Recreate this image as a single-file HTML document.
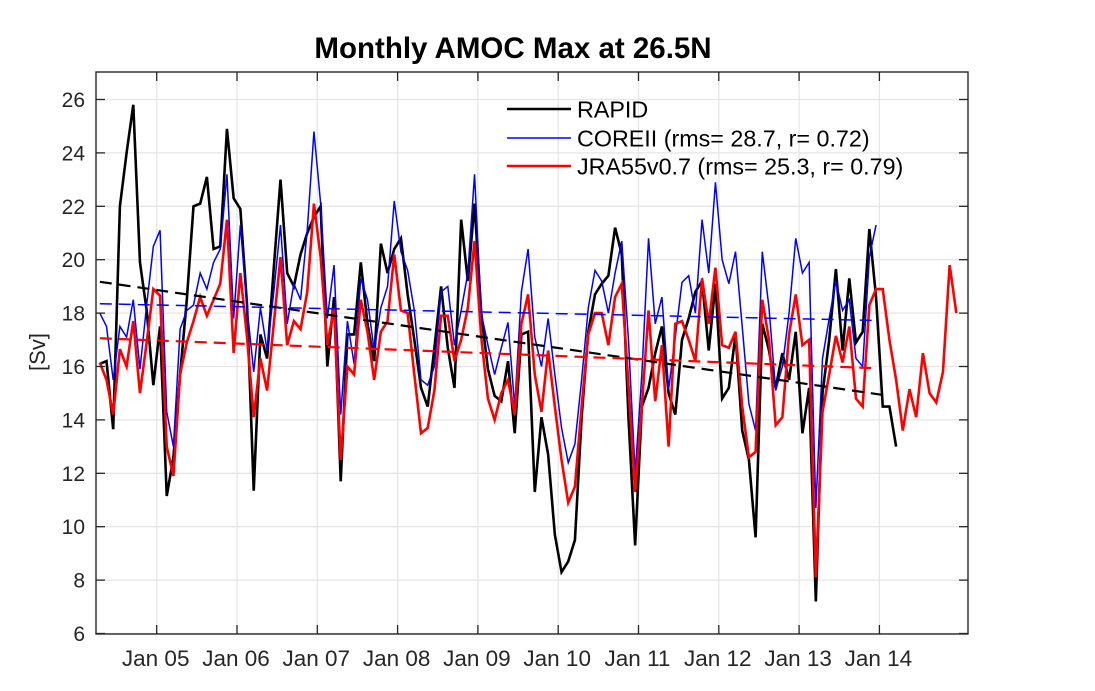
<!DOCTYPE html>
<html><head><meta charset="utf-8"><style>
html,body{margin:0;padding:0;background:#fff;}
svg{display:block;font-family:"Liberation Sans",Arial,sans-serif;}
</style></head><body>
<svg id="chart" width="1095" height="691" viewBox="0 0 1095 691" xmlns="http://www.w3.org/2000/svg">
<rect x="0" y="0" width="1095" height="691" fill="#fff"/>
<g id="grid"></g>
<g id="series"></g>
<g id="axes"></g>
<text x="513" y="58" text-anchor="middle" font-size="29.5" font-weight="bold" fill="#000">Monthly AMOC Max at 26.5N</text>
<text transform="translate(45,352) rotate(-90)" text-anchor="middle" font-size="22" fill="#262626">[Sv]</text>
<g>
<line x1="507" y1="109" x2="571" y2="109" stroke="#000" stroke-width="2.5"/>
<text x="577" y="117.5" font-size="23.3" fill="#000">RAPID</text>
<line x1="507" y1="138" x2="571" y2="138" stroke="#00f" stroke-width="1.4"/>
<text x="577" y="146.5" font-size="23.3" fill="#000">COREII (rms= 28.7, r= 0.72)</text>
<line x1="507" y1="166" x2="571" y2="166" stroke="#f00" stroke-width="2.5"/>
<text x="577" y="174.5" font-size="23.3" fill="#000">JRA55v0.7 (rms= 25.3, r= 0.79)</text>
</g>
</svg>
<script>
const yTicks = [6,8,10,12,14,16,18,20,22,24,26];
const xTickYears = [2005,2006,2007,2008,2009,2010,2011,2012,2013,2014];
const xTickLabels = ["Jan 05","Jan 06","Jan 07","Jan 08","Jan 09","Jan 10","Jan 11","Jan 12","Jan 13","Jan 14"];
const startYear = 2004, startMonth = 4; // first monthly value: April 2004
const rapid = [16.1,16.2,13.65,22.0,24.0,25.8,19.9,18.1,15.3,17.5,11.15,12.6,15.7,18.5,22.0,22.1,23.1,20.4,20.5,24.9,22.3,21.9,
18.3,11.35,17.2,16.3,19.7,23.0,19.5,19.0,20.2,21.0,21.6,22.0,16.0,18.6,11.7,17.2,17.2,19.9,17.6,16.2,
20.6,19.5,20.4,20.8,18.7,17.0,15.2,14.5,16.7,19.0,16.7,15.2,21.5,19.2,22.1,18.0,15.9,14.9,14.7,16.2,
13.5,17.2,17.3,11.3,14.1,12.7,9.7,8.3,8.7,9.5,14.1,17.3,18.7,19.1,19.4,21.2,20.2,14.1,9.3,14.5,15.2,
16.5,17.5,15.0,14.2,17.0,17.8,18.8,19.2,16.6,19.1,14.8,15.2,17.2,13.6,12.5,9.6,17.6,16.6,15.2,16.5,15.5,
17.3,13.5,15.2,7.2,15.0,17.0,19.65,16.6,19.3,16.9,17.3,21.15,18.6,14.5,14.5,13.0];
const coreii = [18.0,17.5,15.5,17.5,17.1,18.5,15.9,18.3,20.5,21.1,14.3,13.0,17.4,18.1,18.3,19.5,18.9,19.9,20.4,23.2,17.8,21.3,
18.2,15.8,18.2,16.6,18.8,21.3,17.6,19.1,18.5,21.1,24.8,22.1,17.8,19.8,14.2,17.7,16.1,19.3,18.5,16.6,
18.2,19.0,22.2,20.3,19.6,18.1,15.5,15.3,16.0,18.8,19.0,16.8,18.1,19.5,23.2,18.0,16.8,15.7,16.7,17.65,14.5,
18.8,20.4,17.1,16.0,17.8,15.7,13.7,12.4,13.1,15.5,18.2,19.6,19.2,18.0,19.5,20.7,17.0,12.0,15.7,20.8,17.6,
18.6,15.15,17.1,19.15,19.4,18.0,21.5,19.5,22.9,20.0,19.1,20.3,17.5,14.6,13.6,20.3,18.2,15.1,16.0,18.0,
20.8,19.5,19.9,10.7,16.3,17.8,19.2,18.1,18.5,16.3,16.0,20.1,21.3];
const jra = [16.15,15.5,14.2,16.65,16.0,17.7,15.0,16.9,18.9,18.65,13.0,11.9,15.7,16.9,17.7,18.6,17.9,18.5,19.1,21.5,16.5,19.5,
17.1,14.1,16.3,15.1,17.6,20.1,16.8,17.7,17.4,18.8,22.1,20.1,16.8,18.2,12.5,16.0,15.7,18.5,17.3,15.5,
17.3,17.7,20.2,18.1,18.0,15.7,13.5,13.7,15.1,17.9,17.9,16.2,17.0,18.2,20.7,17.1,14.8,14.0,15.0,15.5,14.2,
17.6,18.7,15.7,14.3,16.6,14.5,12.5,10.9,11.5,14.5,17.2,18.0,18.0,16.8,18.6,19.1,15.3,11.3,14.5,18.1,14.7,
16.8,13.0,17.6,17.7,17.0,16.2,19.3,17.6,19.7,16.8,16.7,17.3,14.5,12.6,12.8,18.5,17.0,13.8,14.1,17.2,
18.7,16.8,17.0,8.1,14.3,15.7,17.15,16.15,17.5,14.8,14.5,18.3,18.9,18.9,17.0,15.5,13.6,15.15,14.1,16.5,15.0,14.65,15.8,19.8,18.0];

const NS="http://www.w3.org/2000/svg";
const L=96, R=968, T=72, B=634;
function xScale(t){ return 156.7 + (t-2005)*80.3; }
function yScale(v){ return 633.5 - (v-6)*26.7; }
function monthT(i){ return startYear + (startMonth-1+0.5)/12 + i/12; }
function mk(tag, attrs, parent){ const e=document.createElementNS(NS,tag); for(const k in attrs) e.setAttribute(k,attrs[k]); parent.appendChild(e); return e; }

const grid=document.getElementById('grid'), axes=document.getElementById('axes'), series=document.getElementById('series');
mk('rect',{x:L,y:T,width:R-L,height:B-T,fill:'#fff'},grid);
yTicks.forEach(v=>{
  const y=yScale(v);
  const g=mk('line',{x1:L,x2:R,y1:y,y2:y,stroke:'#e6e6e6','stroke-width':1.3},grid);
  
  
  const t1=mk('line',{x1:L,x2:L+9,y1:y,y2:y,stroke:'#262626','stroke-width':1.3},axes);
  
  
  const t2=mk('line',{x1:R-9,x2:R,y1:y,y2:y,stroke:'#262626','stroke-width':1.3},axes);
  
  
  const lb=mk('text',{x:85,y:y+7.5,'text-anchor':'end','font-size':21,fill:'#262626'},axes);
  lb.textContent=v;
  
  
});
xTickYears.forEach((yr,k)=>{
  const x=xScale(yr);
  const g=mk('line',{x1:x,x2:x,y1:T,y2:B,stroke:'#e6e6e6','stroke-width':1.3},grid);
  
  
  const t1=mk('line',{x1:x,x2:x,y1:B-9,y2:B,stroke:'#262626','stroke-width':1.3},axes);
  
  
  const t2=mk('line',{x1:x,x2:x,y1:T,y2:T+9,stroke:'#262626','stroke-width':1.3},axes);
  
  
  const lb=mk('text',{x:x-1,y:666,'text-anchor':'middle','font-size':22.5,fill:'#262626'},axes);
  lb.textContent=xTickLabels[k];
  
  
});
const box=mk('rect',{x:L,y:T,width:R-L,height:B-T,fill:'none',stroke:'#262626','stroke-width':1.4},axes);



function drawSeries(vals,color,w,name){
  const pts=vals.map((v,i)=>xScale(monthT(i)).toFixed(2)+','+yScale(v).toFixed(2)).join(' ');
  const p=mk('polyline',{points:pts,fill:'none',stroke:color,'stroke-width':w,'stroke-linejoin':'miter','stroke-miterlimit':4},series);
  
  
}
function drawTrend(vals,endIdx,color,w,name){
  const n=vals.length; let sx=0,sy=0,sxx=0,sxy=0;
  vals.forEach((v,i)=>{sx+=i;sy+=v;sxx+=i*i;sxy+=i*v;});
  const b=(n*sxy-sx*sy)/(n*sxx-sx*sx), a=(sy-b*sx)/n;
  const p=mk('line',{x1:xScale(monthT(0)),y1:yScale(a),x2:xScale(monthT(endIdx)),y2:yScale(a+b*endIdx),stroke:color,'stroke-width':w,'stroke-dasharray':'12,7'},series);
  
  
}
drawSeries(rapid,'#000',2.6,'rapid-line');
drawSeries(coreii,'#00f',1.5,'coreii-line');
drawSeries(jra,'#f00',2.6,'jra55-line');
drawTrend(rapid,118,'#000',2.2,'rapid-trend');
drawTrend(coreii,116,'#00f',1.5,'coreii-trend');
drawTrend(jra,116,'#f00',2.2,'jra55-trend');
</script>
</body></html>
